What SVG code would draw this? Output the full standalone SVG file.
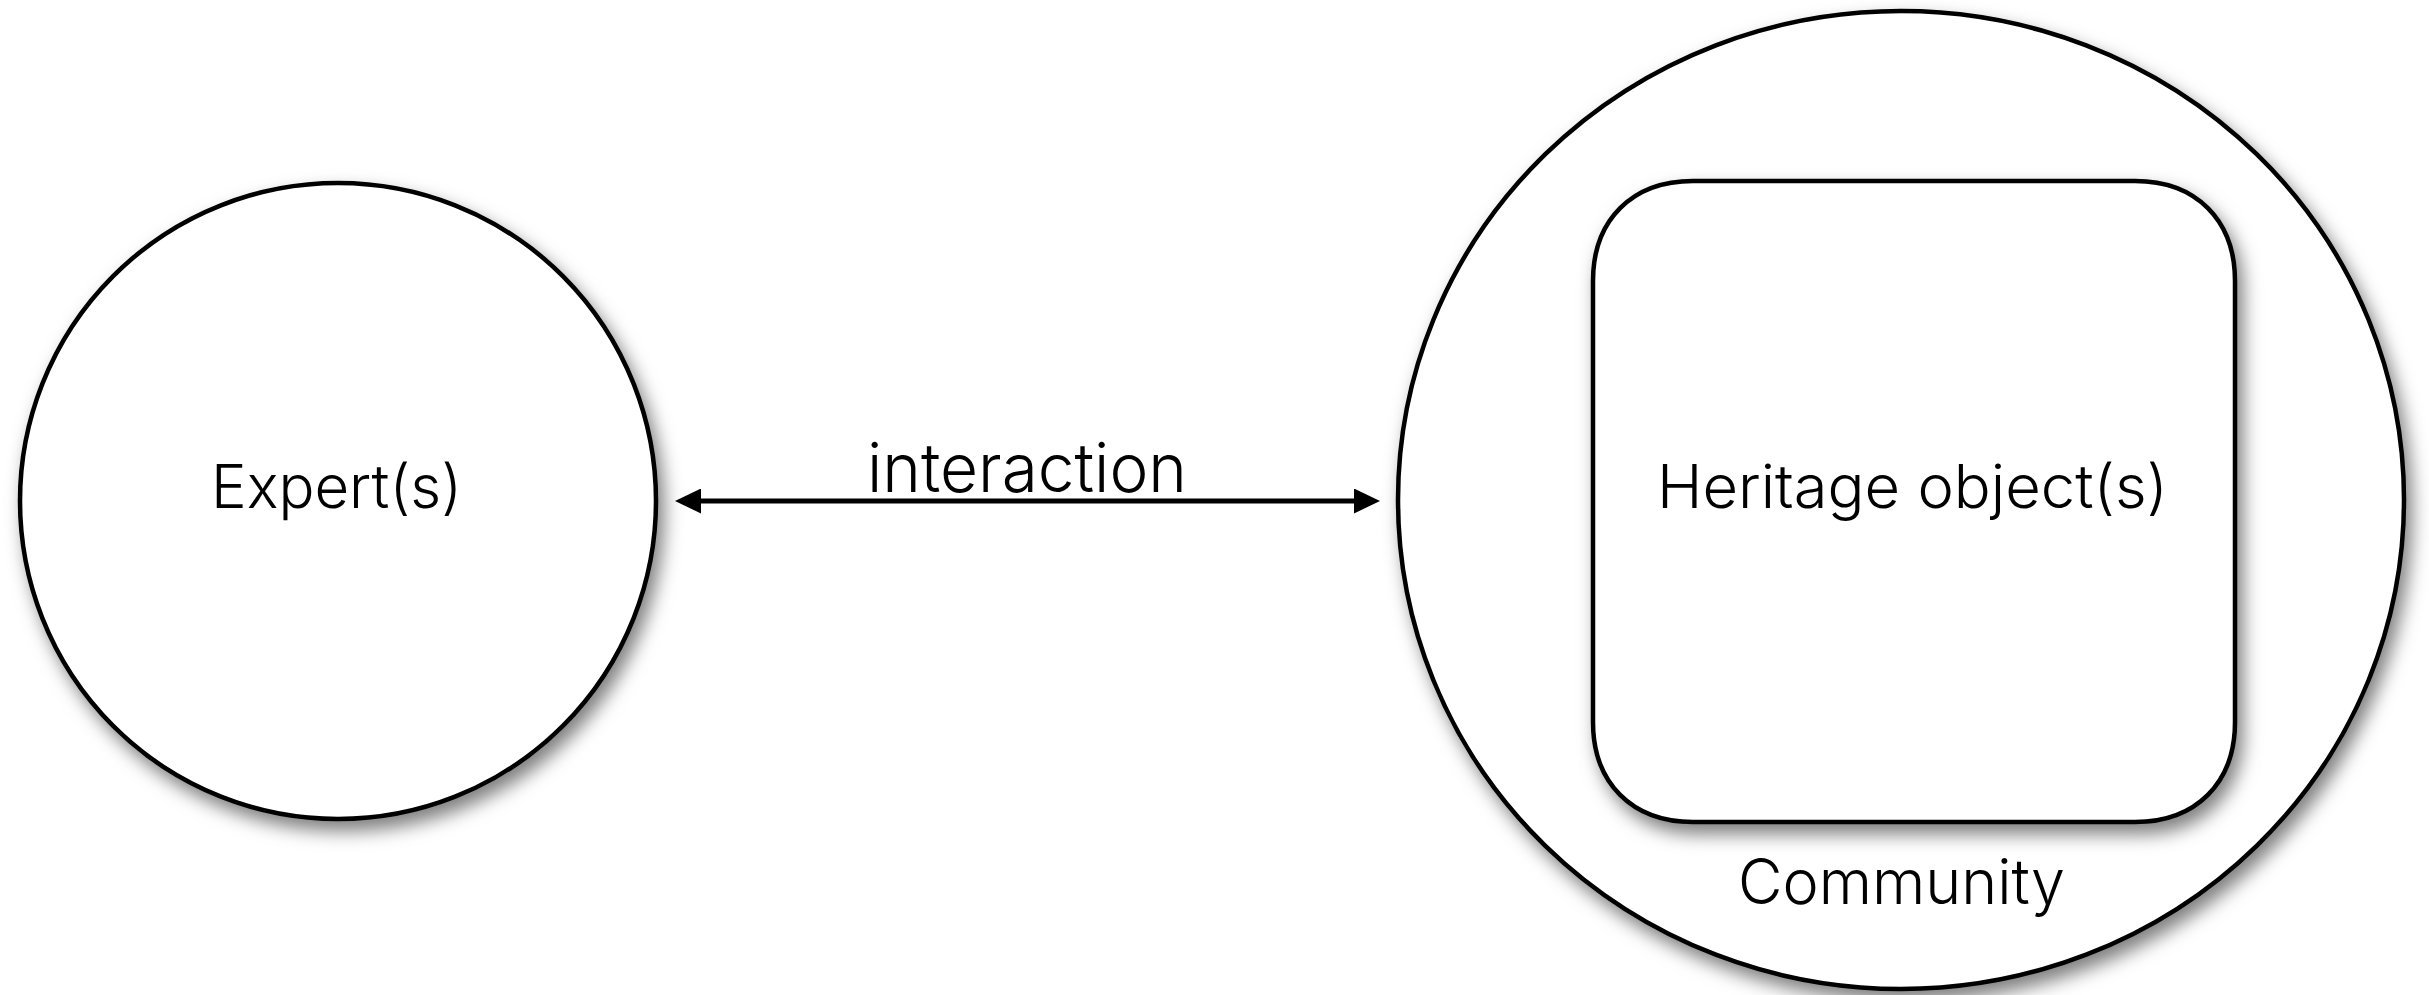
<svg xmlns="http://www.w3.org/2000/svg" width="2429" height="995" viewBox="0 0 2429 995">
  <style>
    .shape { fill: #ffffff; stroke: #000000; stroke-width: 4.5; filter: url(#soft-shadow); }
    .label { font-family: Inter, "Liberation Sans", Arial, sans-serif; font-weight: 300; font-variant-ligatures: none; fill: #000000; }
    .link { stroke: #000000; stroke-width: 5; fill: none; }
  </style>
  <defs>
    <filter id="soft-shadow" x="-10%" y="-10%" width="125%" height="125%">
      <feDropShadow dx="6" dy="10" stdDeviation="9" flood-color="#000000" flood-opacity="0.5"/>
    </filter>
    <marker id="arrow-head" viewBox="0 0 26 25" markerWidth="26" markerHeight="25" refX="6" refY="12.5" markerUnits="userSpaceOnUse" orient="auto-start-reverse">
      <path d="M0,0 L26,12.5 L0,25 Z" fill="#000000"/>
    </marker>
  </defs>

  <rect width="2429" height="995" fill="#ffffff"/>

  <!-- Expert node -->
  <g id="expert">
    <circle class="shape" cx="338" cy="501" r="318"/>
    <text class="label" x="336.5" y="508" font-size="60" text-anchor="middle" textLength="251" lengthAdjust="spacingAndGlyphs">Expert(s)</text>
  </g>

  <!-- Community node containing the heritage object -->
  <g id="community">
    <ellipse class="shape" cx="1901" cy="500" rx="503" ry="489"/>
    <text class="label" x="1901.5" y="904" font-size="63" text-anchor="middle" textLength="327" lengthAdjust="spacingAndGlyphs">Community</text>
  </g>

  <g id="heritage-object">
    <path class="shape" d="M1693,181 L2135,181 C2196,181 2235,220 2235,281 L2235,722 C2235,783 2196,822 2135,822 L1693,822 C1632,822 1593,783 1593,722 L1593,281 C1593,220 1632,181 1693,181 Z"/>
    <text class="label" x="1912.5" y="508" font-size="60" text-anchor="middle" textLength="511" lengthAdjust="spacingAndGlyphs">Heritage object(s)</text>
  </g>

  <!-- Connectors -->
  <g id="connectors">
    <line class="link" x1="695" y1="501" x2="1360" y2="501" marker-start="url(#arrow-head)" marker-end="url(#arrow-head)"/>
    <text class="label" x="1027" y="492" font-size="68" text-anchor="middle" textLength="320" lengthAdjust="spacingAndGlyphs">interaction</text>
  </g>
</svg>
